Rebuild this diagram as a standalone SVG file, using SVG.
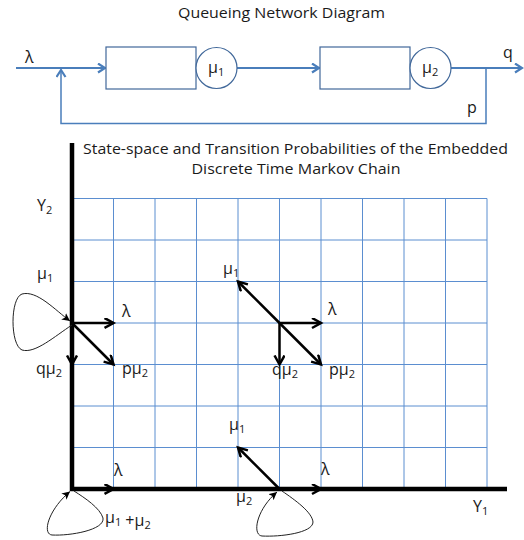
<svg xmlns="http://www.w3.org/2000/svg" width="524" height="540" viewBox="0 0 524 540">
<style>
text{font-family:"Open Sans","Liberation Sans",sans-serif;fill:#1a1a1a;}
.t{font-size:14.5px;}
.l{font-size:16px;}
.s{font-size:11px;}
.grid line{stroke:#5b8ed0;stroke-width:1;}
.blue{stroke:#4a7ebb;stroke-width:2;fill:none;}
.shape{stroke:#41689a;stroke-width:1.2;fill:#fff;}
.arr{stroke:#000;stroke-width:2.5;fill:none;marker-end:url(#ah);}
.loop{stroke:#222;stroke-width:1;fill:none;marker-end:url(#ahs);}
.axis{stroke:#000;stroke-width:4.5;}
</style>
<defs>
<marker id="bh" markerUnits="userSpaceOnUse" markerWidth="12" markerHeight="12" refX="8" refY="5" orient="auto">
<path d="M1,0.5 L8,5 L1,9.5" fill="none" stroke="#4a7ebb" stroke-width="2.2"/>
</marker>
<marker id="ah" markerUnits="userSpaceOnUse" markerWidth="14" markerHeight="14" refX="10" refY="5.5" orient="auto">
<path d="M1,0.5 L10,5.5 L1,10.5" fill="none" stroke="#000" stroke-width="2.5"/>
</marker>
<marker id="ahs" markerUnits="userSpaceOnUse" markerWidth="12" markerHeight="12" refX="8" refY="4" orient="auto">
<path d="M0,0 L8,4 L0,8 L2,4 z" fill="#000"/>
</marker>
</defs>

<text class="t" x="281.5" y="18" text-anchor="middle" textLength="207" lengthAdjust="spacingAndGlyphs">Queueing Network Diagram</text>

<g id="connectors-top">
<line class="blue" x1="16" y1="68" x2="105" y2="68" marker-end="url(#bh)"/>
<line class="blue" x1="237" y1="68" x2="319" y2="68" marker-end="url(#bh)"/>
<line class="blue" x1="451" y1="68" x2="522" y2="68" marker-end="url(#bh)"/>
<polyline class="blue" style="stroke-width:1.5" points="486,68 486,123.5 61,123.5 61,70" marker-end="url(#bh)"/>
</g>
<g id="queue1">
<rect class="shape" x="106" y="47" width="90" height="42"/>
<circle class="shape" cx="216.5" cy="68" r="20.5"/>
<text class="l" x="208" y="73">μ<tspan class="s" dy="3">1</tspan></text>
</g>
<g id="queue2">
<rect class="shape" x="320" y="47" width="90" height="42"/>
<circle class="shape" cx="430.5" cy="68" r="20.5"/>
<text class="l" x="422" y="73">μ<tspan class="s" dy="3">2</tspan></text>
</g>
<text class="l" x="25" y="63">λ</text>
<text class="l" x="503" y="58">q</text>
<text class="l" x="467" y="113">p</text>

<text class="t" x="295.5" y="154" text-anchor="middle" textLength="425" lengthAdjust="spacingAndGlyphs">State-space and Transition Probabilities of the Embedded</text>
<text class="t" x="296" y="174" text-anchor="middle" textLength="209" lengthAdjust="spacingAndGlyphs">Discrete Time Markov Chain</text>

<g id="grid" class="grid">
<line x1="72" y1="198.5" x2="487" y2="198.5"/>
<line x1="72" y1="240" x2="487" y2="240"/>
<line x1="72" y1="281.5" x2="487" y2="281.5"/>
<line x1="72" y1="323" x2="487" y2="323"/>
<line x1="72" y1="364.5" x2="487" y2="364.5"/>
<line x1="72" y1="406" x2="487" y2="406"/>
<line x1="72" y1="447.5" x2="487" y2="447.5"/>
<line x1="113.5" y1="198.5" x2="113.5" y2="489"/>
<line x1="155" y1="198.5" x2="155" y2="489"/>
<line x1="196.5" y1="198.5" x2="196.5" y2="489"/>
<line x1="238" y1="198.5" x2="238" y2="489"/>
<line x1="279.5" y1="198.5" x2="279.5" y2="489"/>
<line x1="321" y1="198.5" x2="321" y2="489"/>
<line x1="362.5" y1="198.5" x2="362.5" y2="489"/>
<line x1="404" y1="198.5" x2="404" y2="489"/>
<line x1="445.5" y1="198.5" x2="445.5" y2="489"/>
<line x1="487" y1="198.5" x2="487" y2="489"/>
</g>
<g id="axes">
<line class="axis" x1="72" y1="143" x2="72" y2="491"/>
<line class="axis" x1="70" y1="489" x2="507" y2="489"/>
</g>
<text class="l" x="37" y="211">Y<tspan class="s" dy="3">2</tspan></text>
<text class="l" x="473" y="512">Y<tspan class="s" dy="3">1</tspan></text>

<g id="transitions">
<line class="arr" x1="72" y1="323" x2="113.5" y2="323"/>
<line class="arr" x1="72" y1="323" x2="72" y2="364.5"/>
<line class="arr" x1="72" y1="323" x2="113.5" y2="364.5"/>
<path class="loop" d="M72,325 C55,336 35,354 22,350 C10,345 10,298 22,294 C37,290 55,310 70,321"/>
<line class="arr" x1="279.5" y1="323" x2="321" y2="323"/>
<line class="arr" x1="279.5" y1="323" x2="279.5" y2="364.5"/>
<line class="arr" x1="279.5" y1="323" x2="321" y2="364.5"/>
<line class="arr" x1="279.5" y1="323" x2="238" y2="281.5"/>
<line class="arr" x1="72" y1="489" x2="113.5" y2="489"/>
<path class="loop" d="M74,491 C85,498 100,508 103,518 C105,530 70,536 52,535 C42,534 48,510 70,491.5"/>
<line class="arr" x1="279.5" y1="489" x2="321" y2="489"/>
<line class="arr" x1="279.5" y1="489" x2="238" y2="447.5"/>
<path class="loop" d="M282,491 C295,500 312,512 313,522 C313,533 280,537 262,536 C252,535 256,510 277,492"/>
</g>

<g id="labels">
<text class="l" x="37" y="279">μ<tspan class="s" dy="3">1</tspan></text>
<text class="l" x="122" y="317">λ</text>
<text class="l" x="36" y="374">qμ<tspan class="s" dy="3">2</tspan></text>
<text class="l" x="122" y="374">pμ<tspan class="s" dy="3">2</tspan></text>
<text class="l" x="223" y="274">μ<tspan class="s" dy="3">1</tspan></text>
<text class="l" x="328" y="315">λ</text>
<text class="l" x="272" y="375">qμ<tspan class="s" dy="3">2</tspan></text>
<text class="l" x="329" y="375">pμ<tspan class="s" dy="3">2</tspan></text>
<text class="l" x="229" y="430">μ<tspan class="s" dy="3">1</tspan></text>
<text class="l" x="114" y="476">λ</text>
<text class="l" x="321" y="475">λ</text>
<text class="l" x="236" y="502">μ<tspan class="s" dy="3">2</tspan></text>
<text class="l" x="105" y="523">μ<tspan class="s" dy="3">1</tspan> +μ<tspan class="s" dy="3">2</tspan></text>
</g>
</svg>
